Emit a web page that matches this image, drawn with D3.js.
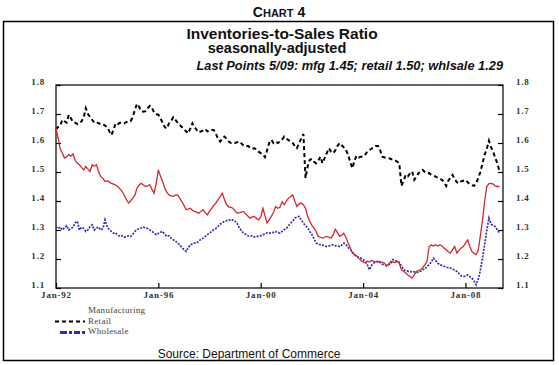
<!DOCTYPE html>
<html><head><meta charset="utf-8">
<script src="https://cdn.jsdelivr.net/npm/d3@7"></script>
<style>
html,body{margin:0;padding:0;background:#fff;}
svg{display:block;}
</style></head>
<body><svg id="c" width="559" height="365"></svg>
<script>
// ---- data (monthly, Jan-1992 .. May-2009) ----
const startYear = 1992, startMonth = 0;
const retail = [
1.647,1.655,1.66,1.68,1.675,1.67,1.697,1.685,1.672,1.67,1.665,1.668,
1.675,1.69,1.72,1.70,1.69,1.68,1.67,1.672,1.668,1.665,1.665,1.66,
1.655,1.64,1.628,1.645,1.668,1.665,1.67,1.67,1.668,1.672,1.675,1.675,
1.69,1.715,1.735,1.725,1.71,1.708,1.71,1.72,1.728,1.722,1.705,1.70,
1.697,1.685,1.67,1.655,1.65,1.668,1.675,1.689,1.68,1.67,1.662,1.655,
1.648,1.64,1.633,1.65,1.668,1.655,1.645,1.636,1.64,1.643,1.648,1.64,
1.642,1.645,1.645,1.632,1.615,1.605,1.615,1.622,1.615,1.605,1.60,1.602,
1.60,1.603,1.605,1.598,1.592,1.588,1.59,1.585,1.58,1.582,1.578,1.57,
1.565,1.56,1.551,1.575,1.60,1.611,1.60,1.605,1.60,1.605,1.612,1.622,
1.615,1.61,1.605,1.60,1.59,1.582,1.60,1.615,1.631,1.479,1.52,1.542,
1.545,1.535,1.53,1.538,1.553,1.53,1.548,1.565,1.582,1.57,1.565,1.575,
1.59,1.60,1.592,1.585,1.576,1.56,1.535,1.513,1.54,1.556,1.55,1.553,
1.553,1.56,1.57,1.576,1.58,1.588,1.59,1.59,1.575,1.553,1.55,1.55,
1.548,1.545,1.542,1.54,1.536,1.53,1.452,1.47,1.49,1.485,1.495,1.502,
1.473,1.485,1.496,1.50,1.507,1.50,1.495,1.496,1.49,1.488,1.484,1.48,
1.476,1.473,1.465,1.452,1.47,1.48,1.49,1.475,1.465,1.461,1.468,1.47,
1.473,1.465,1.458,1.455,1.452,1.46,1.479,1.50,1.53,1.56,1.58,1.608,
1.585,1.57,1.548,1.53,1.502];
const manufacturing = [
1.651,1.616,1.58,1.565,1.548,1.552,1.56,1.555,1.562,1.54,1.53,1.525,
1.515,1.507,1.519,1.51,1.502,1.525,1.52,1.525,1.50,1.484,1.478,1.467,
1.47,1.465,1.461,1.458,1.455,1.45,1.442,1.433,1.42,1.405,1.393,1.40,
1.41,1.42,1.444,1.455,1.461,1.455,1.45,1.452,1.456,1.44,1.427,1.46,
1.507,1.485,1.467,1.445,1.43,1.421,1.418,1.416,1.42,1.421,1.41,1.398,
1.385,1.37,1.372,1.375,1.368,1.364,1.362,1.358,1.365,1.37,1.36,1.352,
1.365,1.375,1.385,1.393,1.405,1.415,1.427,1.405,1.387,1.38,1.378,1.375,
1.365,1.358,1.36,1.362,1.364,1.355,1.348,1.341,1.345,1.347,1.34,1.335,
1.345,1.375,1.35,1.324,1.335,1.347,1.36,1.381,1.375,1.378,1.398,1.387,
1.40,1.41,1.415,1.421,1.40,1.381,1.39,1.393,1.387,1.375,1.347,1.33,
1.315,1.307,1.295,1.278,1.275,1.272,1.275,1.278,1.275,1.272,1.285,1.303,
1.29,1.278,1.282,1.289,1.275,1.255,1.24,1.22,1.215,1.21,1.203,1.195,
1.19,1.186,1.192,1.19,1.195,1.192,1.19,1.192,1.19,1.188,1.186,1.175,
1.183,1.192,1.19,1.188,1.192,1.185,1.163,1.158,1.152,1.145,1.14,1.134,
1.145,1.157,1.16,1.163,1.17,1.18,1.192,1.243,1.248,1.245,1.249,1.245,
1.249,1.245,1.238,1.232,1.225,1.22,1.232,1.243,1.22,1.23,1.238,1.243,
1.255,1.266,1.245,1.226,1.22,1.215,1.23,1.28,1.335,1.40,1.45,1.46,
1.461,1.458,1.452,1.45,1.45];
const wholesale = [
1.312,1.305,1.31,1.30,1.308,1.315,1.30,1.305,1.31,1.325,1.33,1.30,
1.31,1.305,1.295,1.30,1.312,1.318,1.30,1.307,1.31,1.30,1.305,1.335,
1.31,1.301,1.295,1.289,1.29,1.282,1.278,1.28,1.275,1.278,1.28,1.278,
1.285,1.295,1.301,1.305,1.307,1.31,1.307,1.305,1.30,1.295,1.29,1.284,
1.288,1.292,1.295,1.285,1.278,1.28,1.272,1.266,1.262,1.255,1.249,1.24,
1.232,1.226,1.238,1.249,1.252,1.255,1.255,1.262,1.268,1.272,1.278,1.284,
1.29,1.295,1.301,1.305,1.312,1.32,1.325,1.33,1.332,1.335,1.332,1.335,
1.33,1.322,1.307,1.298,1.289,1.285,1.28,1.278,1.28,1.276,1.278,1.278,
1.28,1.284,1.286,1.29,1.289,1.29,1.292,1.295,1.29,1.289,1.295,1.301,
1.305,1.315,1.324,1.33,1.341,1.345,1.347,1.335,1.324,1.315,1.307,1.295,
1.284,1.27,1.255,1.252,1.249,1.248,1.245,1.243,1.245,1.248,1.249,1.246,
1.245,1.243,1.248,1.255,1.25,1.24,1.232,1.225,1.215,1.21,1.205,1.203,
1.198,1.192,1.18,1.163,1.178,1.186,1.19,1.192,1.188,1.182,1.18,1.178,
1.18,1.185,1.198,1.195,1.192,1.188,1.175,1.163,1.16,1.158,1.157,1.155,
1.156,1.154,1.155,1.158,1.163,1.165,1.175,1.18,1.19,1.203,1.195,1.186,
1.18,1.178,1.175,1.172,1.17,1.169,1.165,1.162,1.157,1.15,1.142,1.14,
1.14,1.145,1.14,1.134,1.125,1.111,1.13,1.16,1.205,1.25,1.30,1.341,
1.32,1.315,1.312,1.30,1.29];
const yTicks = [1.1,1.2,1.3,1.4,1.5,1.6,1.7,1.8];
const xTickLabels = ["Jan-92","Jan-96","Jan-00","Jan-04","Jan-08"];
const xTickYears = [1992,1996,2000,2004,2008];
const legendLabels = ["Manufacturing","Retail","Wholesale"];

// ---- drawing ----
const svg = d3.select("#c");
const L = 56, R = 503, T = 85, B = 288;
const x = d3.scaleTime().domain([new Date(1992,0,1), new Date(2009,5,20)]).range([L,R]);
const y = d3.scaleLinear().domain([1.1,1.8]).range([B,T]);
const dateOf = i => new Date(startYear, startMonth + i, 1);

// Chart heading (small caps)
const h = svg.append("text").attr("x",279).attr("y",17).attr("text-anchor","middle")
  .attr("font-family","Liberation Sans, Arial, sans-serif").attr("font-weight","bold").attr("fill","#111");
h.append("tspan").attr("font-size","14px").text("C");
h.append("tspan").attr("font-size","11px").text("HART");
h.append("tspan").attr("font-size","14px").text(" 4");

// outer box
svg.append("rect").attr("x",3.5).attr("y",21.5).attr("width",550).attr("height",339)
  .attr("fill","none").attr("stroke","#000").attr("stroke-width",1.5);

svg.append("text").attr("x",282).attr("y",38.5).attr("text-anchor","middle")
  .attr("font-family","Liberation Sans, Arial, sans-serif").attr("font-weight","bold")
  .attr("font-size","15.5px").attr("fill","#111").text("Inventories-to-Sales Ratio");
svg.append("text").attr("x",277).attr("y",53).attr("text-anchor","middle")
  .attr("font-family","Liberation Sans, Arial, sans-serif").attr("font-weight","bold")
  .attr("font-size","14.5px").attr("fill","#111").text("seasonally-adjusted");
svg.append("text").attr("x",503).attr("y",70).attr("text-anchor","end")
  .attr("font-family","Liberation Sans, Arial, sans-serif").attr("font-weight","bold")
  .attr("font-style","italic").attr("font-size","12.8px").attr("fill","#111")
  .text("Last Points 5/09: mfg 1.45; retail 1.50; whlsale 1.29");

// plot frame
svg.append("rect").attr("x",L).attr("y",T).attr("width",R-L).attr("height",B-T)
  .attr("fill","none").attr("stroke","#000").attr("stroke-width",1.2);

const lblFont = "Liberation Serif, Times New Roman, serif";
// left axis
const yl = d3.axisLeft(y).tickValues(yTicks).tickSize(-5).tickPadding(11).tickFormat(d3.format(".1f"));
const gL = svg.append("g").attr("transform",`translate(${L},0)`).call(yl);
// right axis
const yr = d3.axisRight(y).tickValues(yTicks).tickSize(-5).tickPadding(13).tickFormat(d3.format(".1f"));
const gR = svg.append("g").attr("transform",`translate(${R},0)`).call(yr);
// bottom axis
const xb = d3.axisBottom(x).tickValues(xTickYears.map(yy=>new Date(yy,0,1))).tickSize(-5).tickPadding(5)
  .tickFormat((d,i)=>xTickLabels[i]);
const gB = svg.append("g").attr("transform",`translate(0,${B})`).call(xb);

[gL,gR,gB].forEach(g=>{
  g.select(".domain").remove();
  g.selectAll(".tick line").attr("stroke","#000").attr("stroke-width",1.2);
  g.selectAll("text").attr("font-family",lblFont).attr("font-weight","bold")
    .attr("font-size","9px").attr("fill","#333").attr("letter-spacing","0.8px");
});
gL.selectAll(".tick text").attr("dy","-0.05em");
gR.selectAll(".tick text").attr("dy","-0.05em");
gB.selectAll(".tick text").attr("dy","0.55em");

// lines
const line = d3.line().x((d,i)=>x(dateOf(i))).y(d=>y(d));
svg.append("path").datum(retail).attr("d",line).attr("fill","none")
  .attr("stroke","#000").attr("stroke-width",2).attr("stroke-dasharray","4,3");
svg.append("path").datum(wholesale).attr("d",line).attr("fill","none")
  .attr("stroke","#2d2db8").attr("stroke-width",1.7).attr("stroke-dasharray","2,1.3");
svg.append("path").datum(manufacturing).attr("d",line).attr("fill","none")
  .attr("stroke","#d3282c").attr("stroke-width",1.3);

// legend
const lg = svg.append("g");
const legY = [310, 320.5, 331];
legendLabels.forEach((t,i)=>{
  lg.append("text").attr("x",88).attr("y",legY[i]+3).attr("font-family",lblFont)
    .attr("font-size","9px").attr("fill","#444").attr("letter-spacing","0.3px").text(t);
});
lg.append("line").attr("x1",55).attr("x2",85).attr("y1",legY[1]+1).attr("y2",legY[1]+1)
  .attr("stroke","#000").attr("stroke-width",2).attr("stroke-dasharray","4,3");
lg.append("line").attr("x1",60).attr("x2",85).attr("y1",legY[2]+1.5).attr("y2",legY[2]+1.5)
  .attr("stroke","#2d2db8").attr("stroke-width",3).attr("stroke-dasharray","7,2,3,2,6,2");

svg.append("text").attr("x",249).attr("y",358).attr("text-anchor","middle")
  .attr("font-family","Liberation Sans, Arial, sans-serif").attr("font-size","12px")
  .attr("fill","#111").text("Source:  Department of Commerce");
</script></body></html>
